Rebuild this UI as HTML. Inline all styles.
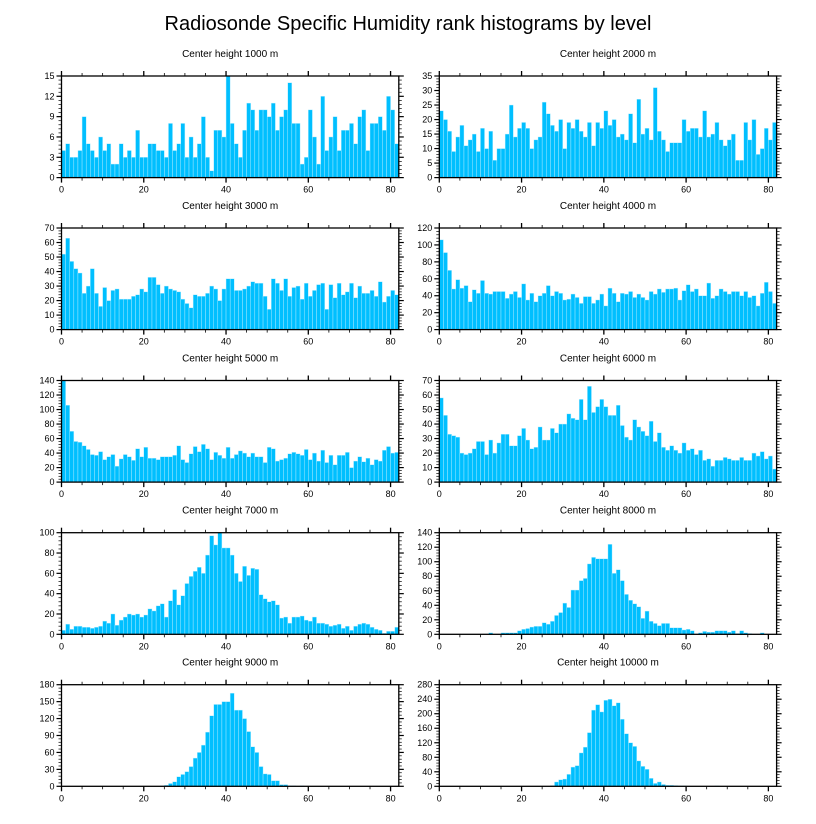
<!DOCTYPE html>
<html><head><meta charset="utf-8"><style>
html,body{margin:0;padding:0;background:#fff;}
svg{display:block;font-family:"Liberation Sans",sans-serif;}
</style></head><body>
<svg id="chart" width="816" height="824" viewBox="0 0 816 824" xmlns="http://www.w3.org/2000/svg">
<text x="408" y="30" text-anchor="middle" font-size="20">Radiosonde Specific Humidity rank histograms by level</text>
</svg>
<script>
const titles = ["Center height 1000 m","Center height 2000 m","Center height 3000 m","Center height 4000 m","Center height 5000 m","Center height 6000 m","Center height 7000 m","Center height 8000 m","Center height 9000 m","Center height 10000 m"];
const yMaxes = [15,35,70,120,140,70,100,140,180,280];
const yStepsArr = [3,5,10,20,20,10,20,20,30,40];
const xTicks = [0,20,40,60,80];
const h1000 = [4,5,3,3,4,9,5,4,3,6,4,5,2,2,5,3,4,3,7,3,3,5,5,4,4,3,8,4,5,8,3,6,3,5,9,3,1,7,7,6,15,8,5,3,7,11,10,7,10,10,9,11,7,9,10,14,8,8,2,3,10,6,2,12,4,6,9,4,7,7,8,5,9,10,4,8,8,9,7,12,10,5];
const h2000 = [23,20,16,9,14,18,11,13,15,9,17,10,16,6,10,10,15,25,14,17,19,17,10,13,14,26,22,18,16,20,10,19,17,20,16,14,19,11,19,17,23,18,20,14,15,13,22,12,27,15,17,13,31,16,13,9,12,12,12,20,16,17,17,14,23,14,15,19,13,11,13,15,6,6,19,13,20,8,10,17,13,19];
const h3000 = [52,63,47,42,39,25,30,42,25,16,29,20,27,28,21,21,21,23,24,28,26,36,36,31,25,30,28,27,26,21,18,15,24,23,23,25,30,28,20,28,35,35,27,27,28,30,33,32,32,23,14,35,32,27,35,23,29,30,21,32,23,27,31,32,14,31,22,32,24,26,32,22,30,25,25,27,23,33,19,23,27,24];
const h4000 = [106,91,70,48,59,49,52,33,47,43,58,43,42,45,45,45,37,42,45,38,54,35,43,33,40,43,52,40,45,43,35,36,42,38,31,39,39,31,35,42,28,49,43,33,43,42,45,38,42,38,35,45,42,48,44,48,48,49,35,46,53,45,48,40,40,55,37,40,48,45,42,45,45,40,45,38,40,28,43,56,45,31];
const h5000 = [140,106,70,56,55,50,45,38,37,42,31,35,38,22,32,38,35,30,46,35,48,33,33,31,35,35,35,37,50,31,27,39,49,42,52,46,31,41,37,33,48,33,38,43,40,35,40,35,35,27,48,46,29,31,33,39,41,39,37,45,31,40,29,44,27,37,24,37,37,41,20,29,35,28,33,24,31,29,44,49,40,41];
const h6000 = [58,46,33,32,31,20,19,20,23,28,28,19,29,20,27,33,33,25,25,32,37,29,23,24,38,29,29,37,34,40,40,47,44,43,57,43,66,48,52,57,52,46,46,53,39,31,29,43,38,35,32,42,28,34,24,22,25,22,20,27,22,23,19,22,15,16,11,15,15,17,16,15,15,17,15,15,20,18,21,16,18,9];
const h7000 = [4,10,5,8,8,7,7,6,7,8,13,11,20,9,14,17,20,19,20,17,19,25,23,28,30,17,33,44,29,38,50,57,62,66,60,78,97,88,100,85,85,78,60,52,67,58,65,64,39,35,32,33,29,16,17,11,17,17,18,14,13,17,11,11,10,8,9,10,6,8,4,8,10,11,10,7,5,4,1,3,3,7];
const h8000 = [0,0,0,0,0,0,0,0,0,0,0,0,2,0,0,2,2,2,2,5,7,8,10,11,11,16,14,18,26,30,43,37,61,61,74,77,97,106,104,104,104,124,84,89,74,55,47,42,38,22,32,18,15,12,15,15,9,9,9,6,7,5,0,2,4,3,3,5,5,5,3,5,1,5,2,1,0,0,2,0,0,0];
const h9000 = [0,0,0,0,0,0,0,0,0,0,0,0,0,0,0,0,0,0,0,0,0,0,0,0,1,2,5,8,17,21,26,35,50,60,73,96,125,145,145,150,150,165,135,135,120,97,70,60,35,22,21,10,10,3,3,1,1,0,1,0,0,0,0,0,0,0,0,0,0,0,0,0,0,0,0,0,0,0,0,0,0,0];
const h10000 = [0,0,0,0,0,0,0,0,0,0,0,0,0,0,0,0,0,0,0,0,0,0,0,0,0,0,0,2,12,18,20,33,53,57,92,108,148,210,225,205,237,240,222,230,185,145,120,110,70,55,47,22,8,12,5,3,3,2,1,1,0,0,0,0,0,0,0,1,0,0,0,0,0,0,0,0,0,0,0,0,0,0];
const series = [h1000,h2000,h3000,h4000,h5000,h6000,h7000,h8000,h9000,h10000];

const NS = "http://www.w3.org/2000/svg";
const svg = document.getElementById("chart");
function mk(tag, attrs, parent){ const e=document.createElementNS(NS,tag); for(const k in attrs) e.setAttribute(k,attrs[k]); (parent||svg).appendChild(e); return e; }
const colL=[61.5,439.3], W=337.3, H=101.6, rowTop=[76,228,380.5,532.7,684.7], XMAX=82;

series.forEach((vals,p)=>{
  const col=p%2, row=Math.floor(p/2);
  const L=colL[col], T=rowTop[row], B=T+H, R=L+W;
  const ymax=yMaxes[p], ystep=yStepsArr[p];
  const xs=v=>L+v/XMAX*W, ys=v=>B-v/ymax*H;
  const g=mk("g",{});
  
  
  const t=mk("text",{x:(L+R)/2,y:T-19,"text-anchor":"middle","font-size":"10"},g);
  t.textContent=titles[p];
  
  
  vals.forEach((v,i)=>{
    if(v<=0) return;
    const r=mk("rect",{x:xs(i),y:ys(v),width:W/XMAX,height:B-ys(v),fill:"#00BFFF",stroke:"#bfefff","stroke-width":"0.4"},g);
    
    
  });
  const fr=mk("rect",{x:L,y:T,width:W,height:H,fill:"none",stroke:"#000","stroke-width":"1.3"},g);
  
  
  // x ticks
  for(let v=0; v<=80; v+=5){
    const maj=v%20===0, len=maj?5:3, x=xs(v);
    mk("line",{x1:x,x2:x,y1:B,y2:B+len,stroke:"#000","stroke-width":maj?1.3:0.8},g);
    mk("line",{x1:x,x2:x,y1:T,y2:T-len,stroke:"#000","stroke-width":maj?1.3:0.8},g);
  }
  xTicks.forEach(v=>{
    const tl=mk("text",{x:xs(v),y:B+15,"text-anchor":"middle","font-size":"9"},g);
    tl.textContent=v;
    
    
  });
  // y ticks
  const minor=ystep/5;
  for(let k=0; k*minor<=ymax+1e-9; k++){
    const v=k*minor, maj=k%5===0, len=maj?5:3, y=ys(v);
    mk("line",{x1:L,x2:L-len,y1:y,y2:y,stroke:"#000","stroke-width":maj?1.2:0.7},g);
    mk("line",{x1:R,x2:R+len,y1:y,y2:y,stroke:"#000","stroke-width":maj?1.2:0.7},g);
    if(maj){
      const yl=mk("text",{x:L-7,y:y+3,"text-anchor":"end","font-size":"9"},g);
      yl.textContent=Math.round(v);
      
      
    }
  }
});
</script>
</body></html>
